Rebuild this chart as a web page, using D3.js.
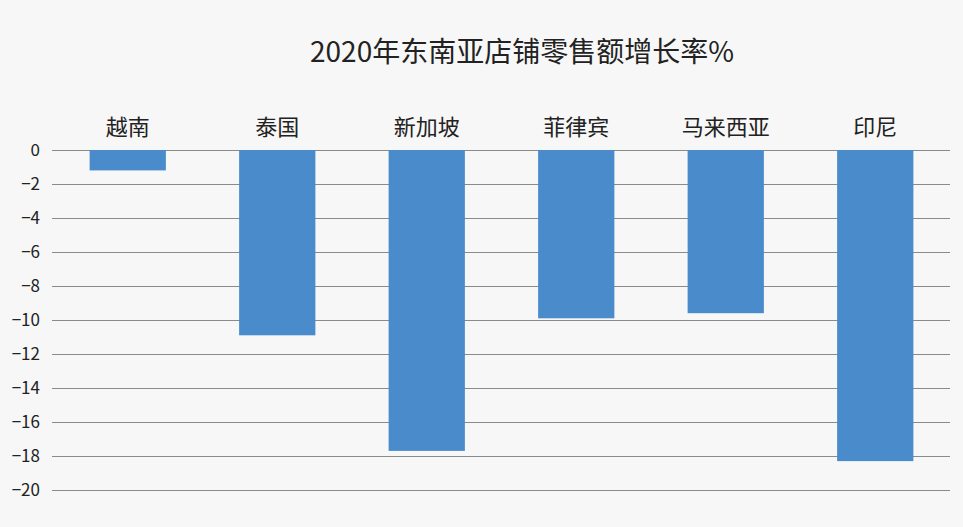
<!DOCTYPE html>
<html><head><meta charset="utf-8">
<script src="https://cdn.jsdelivr.net/npm/d3@7"></script>
<style>
html,body{margin:0;padding:0;background:#f7f7f7;}
text{font-family:"Noto Sans CJK SC","Noto Sans",sans-serif;}
</style></head>
<body>
<svg id="c" width="963" height="527"></svg>
<script>
const categories = ["越南","泰国","新加坡","菲律宾","马来西亚","印尼"];
const values = [-1.2, -10.9, -17.7, -9.9, -9.6, -18.3];
const yTicks = [0,-2,-4,-6,-8,-10,-12,-14,-16,-18,-20];
const title = "2020年东南亚店铺零售额增长率%";

const svg = d3.select("#c");
svg.append("rect").attr("width",963).attr("height",527).attr("fill","#f7f7f7");
const x = d3.scaleBand().domain(categories).range([53,950]).paddingInner(0.49).paddingOuter(0.245);
const y = d3.scaleLinear().domain([0,-20]).range([150,490]);

// gridlines
svg.append("g").selectAll("line").data(yTicks).join("line")
  .attr("x1",52).attr("x2",950)
  .attr("y1",d=>y(d)+0.5).attr("y2",d=>y(d)+0.5)
  .attr("stroke","#8a8a8a").attr("stroke-width",1);

// y axis labels
const yAxis = d3.axisLeft(y).tickValues(yTicks).tickSize(0).tickPadding(0);
const ga = svg.append("g").attr("transform","translate(40,0)").call(yAxis);
ga.select(".domain").remove();
ga.selectAll("text").attr("font-size",17).attr("fill","#222")
  .style("font-family",'"Noto Sans CJK SC","Noto Sans",sans-serif');

// bars
svg.append("g").selectAll("rect").data(categories).join("rect")
  .attr("x",d=>x(d)).attr("width",x.bandwidth())
  .attr("y",y(0)).attr("height",(d,i)=>y(values[i])-y(0))
  .attr("fill","#4a8bcb");

// category labels
svg.append("g").selectAll("text").data(categories).join("text")
  .attr("x",d=>x(d)+x.bandwidth()/2).attr("y",135)
  .attr("text-anchor","middle").attr("font-size",22).attr("fill","#222")
  .text(d=>d);

svg.append("text").attr("x",522).attr("y",62).attr("text-anchor","middle")
  .attr("font-size",28).attr("font-weight",400).attr("fill","#222").text(title);
</script>
</body></html>
